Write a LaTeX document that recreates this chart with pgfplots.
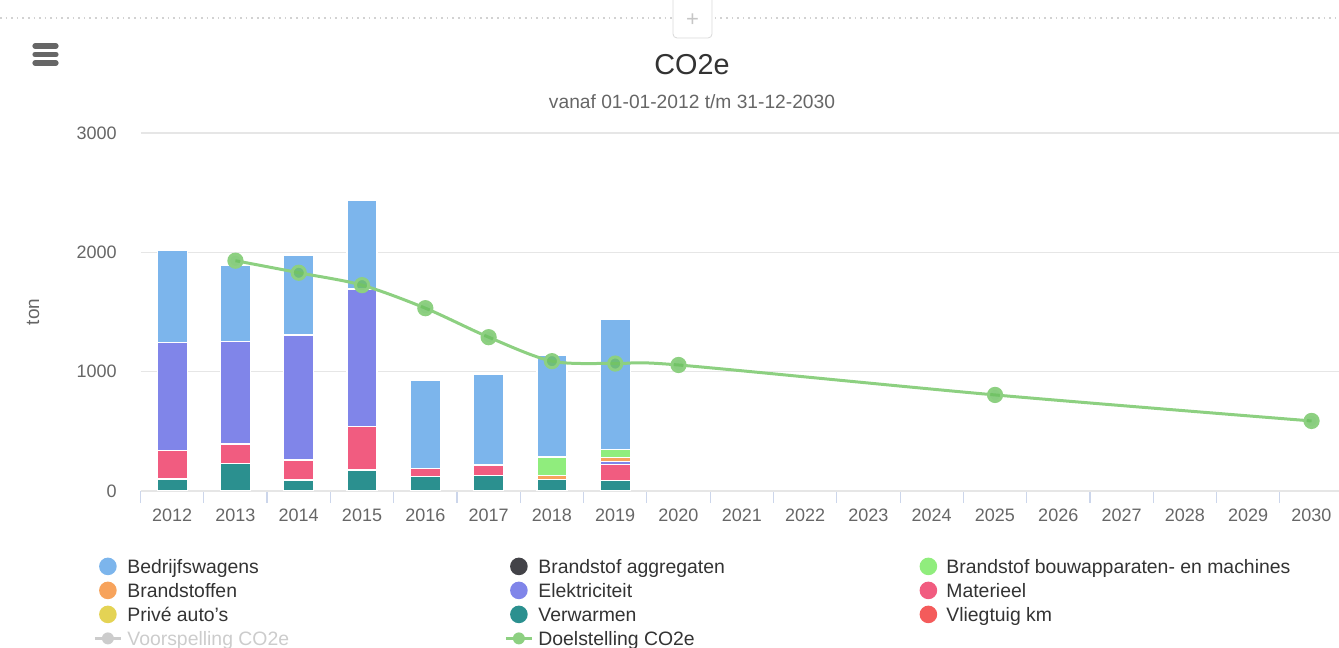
\documentclass[border=0pt]{standalone}
\usepackage{pgfplots}
\pgfplotsset{compat=1.18}
\usepackage{pgfplotstable}
\usepackage{fontspec}
\setmainfont{Liberation Sans}

\definecolor{cBedr}{HTML}{7CB5EC}
\definecolor{cAggr}{HTML}{434348}
\definecolor{cBouw}{HTML}{90ED7D}
\definecolor{cBrst}{HTML}{F7A35C}
\definecolor{cElek}{HTML}{8085E9}
\definecolor{cMat}{HTML}{F15C80}
\definecolor{cPriv}{HTML}{E4D354}
\definecolor{cVerw}{HTML}{2B908F}
\definecolor{cVlieg}{HTML}{F45B5B}
\definecolor{cGrey}{HTML}{CCCCCC}
\definecolor{cLine}{HTML}{8DD081}
\definecolor{cMark}{HTML}{6CC060}
\definecolor{cAxis}{HTML}{CCD6EB}
\definecolor{cGrid}{HTML}{E6E6E6}
\definecolor{c333}{HTML}{333333}
\definecolor{c666}{HTML}{666666}

\pgfplotstableread{
year verw mat elek brst bouw bedr
2012 100 238 905 0 0 777
2013 232 162 858 0 0 642
2014 92 168 1048 0 0 667
2015 176 363 1154 0 0 746
2016 120 70 0 0 0 735
2017 128 90 0 0 0 763
2018 95 0 0 35 155 855
2019 90 135 20 35 65 1094
}\bars

\pgfplotstableread{
year doel
2013 1930
2014 1829
2015 1725
2016 1532
2017 1289
2018 1088
2019 1068
2020 1056
2025 805
2030 587
}\doel

\pgfplotsset{
  dotleg/.style={legend image code/.code={\fill[#1, draw=none] (0bp,0bp) circle (4.4bp); \path[draw=none] (-6.5bp,0bp) -- (6.5bp,0bp);}},
  lineleg/.style={legend image code/.code={\draw[#1, line width=1.5bp] (-6.5bp,0bp) -- (6.5bp,0bp); \fill[#1, draw=none] (0bp,0bp) circle (3bp);}},
  common/.style={
    at={(70.25bp,78.5bp)}, anchor=south west, scale only axis,
    width=601.35bp, height=179bp,
    xmin=2011.5, xmax=2030.5, ymin=0, ymax=3000,
    /pgf/number format/1000 sep={},
    /pgf/number format/assume math mode=true,
  }
}

\begin{document}
\begin{tikzpicture}
\useasboundingbox (0bp,0bp) rectangle (669.5bp,324bp);
% page decorations
\draw[gray!35, dotted, line width=0.8bp] (0bp,315bp) -- (669.5bp,315bp);
\draw[gray!30, rounded corners=2bp, fill=white] (336.5bp,305bp) rectangle (356bp,330bp);
\node[text=gray!45, font=\fontsize{11bp}{11bp}\selectfont] at (346.25bp,314bp) {+};
\foreach \yy in {301,296.75,292.5} \draw[line width=2.6bp, line cap=round, color=c666] (17.5bp,\yy bp) -- (28bp,\yy bp);
% titles
\node[font=\fontsize{14.4bp}{17bp}\selectfont, text=c333] at (346bp,291.5bp) {CO2e};
\node[font=\fontsize{9.6bp}{11bp}\selectfont, text=c666] at (346bp,273bp) {vanaf 01-01-2012 t/m 31-12-2030};

\begin{axis}[common,
  ybar stacked, bar width=15bp,
  axis line style={draw=none},
  xtick={2012,...,2030},
  minor xtick={2011.5,2012.5,...,2030.5},
  xtick pos=bottom, ytick pos=left,
  tick align=outside,
  major tick length=0pt, minor tick length=6bp,
  every minor tick/.append style={cAxis, line width=0.6bp},
  ytick={0,1000,2000,3000},
  ymajorgrids, major grid style={cGrid, line width=0.6bp},
  extra y ticks={0}, extra y tick labels={},
  extra y tick style={grid style={cAxis, line width=0.7bp}},
  xticklabel style={anchor=base, inner sep=0pt, yshift=-15.25bp, font=\fontsize{9bp}{10bp}\selectfont, text=c666},
  yticklabel style={anchor=east, inner sep=0pt, xshift=-11.75bp, font=\fontsize{9bp}{10bp}\selectfont, text=c666},
  ylabel={ton},
  ylabel style={at={(axis description cs:-0.0894,0.5)}, anchor=center, font=\fontsize{9.5bp}{10bp}\selectfont, text=c666},
]
\addplot[fill=cVerw, draw=white, line width=0.6bp] table[x=year,y=verw]{\bars};
\addplot[fill=cMat,  draw=white, line width=0.6bp] table[x=year,y=mat]{\bars};
\addplot[fill=cElek, draw=white, line width=0.6bp] table[x=year,y=elek]{\bars};
\addplot[fill=cBrst, draw=white, line width=0.6bp] table[x=year,y=brst]{\bars};
\addplot[fill=cBouw, draw=white, line width=0.6bp] table[x=year,y=bouw]{\bars};
\addplot[fill=cBedr, draw=white, line width=0.6bp] table[x=year,y=bedr]{\bars};
\end{axis}

\begin{axis}[common, hide axis,
  legend columns=3, legend cell align=left,
  legend style={at={(axis description cs:-0.0395,-0.176)}, anchor=north west,
    draw=none, fill=none, inner sep=0pt, column sep=0pt, row sep=0pt,
    nodes={inner sep=0pt, text height=9.5bp, text depth=2.5bp},
    font=\fontsize{9.7bp}{11bp}\selectfont, text=c333,
    /tikz/every odd column/.append style={column sep=2.5bp}},
]
\addlegendimage{dotleg=cBedr}\addlegendentry{\makebox[188.5bp][l]{Bedrijfswagens}}
\addlegendimage{dotleg=cAggr}\addlegendentry{\makebox[188.5bp][l]{Brandstof aggregaten}}
\addlegendimage{dotleg=cBouw}\addlegendentry{\makebox[188.5bp][l]{Brandstof bouwapparaten- en machines}}
\addlegendimage{dotleg=cBrst}\addlegendentry{\makebox[188.5bp][l]{Brandstoffen}}
\addlegendimage{dotleg=cElek}\addlegendentry{\makebox[188.5bp][l]{Elektriciteit}}
\addlegendimage{dotleg=cMat}\addlegendentry{\makebox[188.5bp][l]{Materieel}}
\addlegendimage{dotleg=cPriv}\addlegendentry{\makebox[188.5bp][l]{Privé auto's}}
\addlegendimage{dotleg=cVerw}\addlegendentry{\makebox[188.5bp][l]{Verwarmen}}
\addlegendimage{dotleg=cVlieg}\addlegendentry{\makebox[188.5bp][l]{Vliegtuig km}}
\addlegendimage{lineleg=cGrey}\addlegendentry{\makebox[188.5bp][l]{\textcolor{cGrey}{Voorspelling CO2e}}}
\addplot[color=cLine, line width=1.5bp, smooth, mark=*, mark size=3.3bp,
  mark options={fill=cMark, draw=none, fill opacity=0.8}, lineleg=cLine]
  table[x=year,y=doel]{\doel};
\addlegendentry{\makebox[188.5bp][l]{Doelstelling CO2e}}
\end{axis}
\end{tikzpicture}
\end{document}
